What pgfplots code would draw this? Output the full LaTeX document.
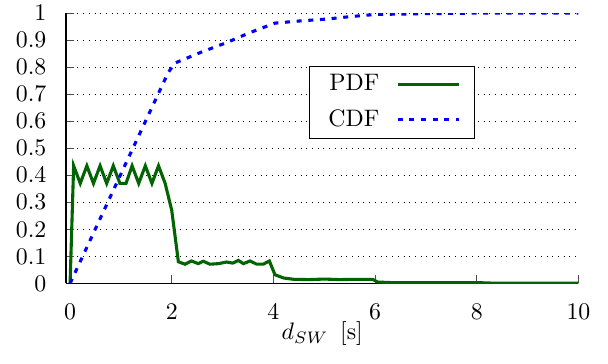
\documentclass[border=0pt]{standalone}
\usepackage{pgfplots}
\pgfplotsset{compat=1.18}
\definecolor{dkgreen}{RGB}{0,100,0}
\begin{document}
\begin{tikzpicture}
\useasboundingbox (-27.7pt,-33.6pt) rectangle (227.4pt,118.9pt);
\begin{axis}[
  scale only axis, width=215pt, height=113.4pt,
  xmin=-0.08, xmax=10, ymin=0, ymax=1,
  axis lines*=left,
  axis line style={black, line width=0.6pt},
  xtick={0,2,4,6,8,10},
  ytick={0,0.1,0.2,0.3,0.4,0.5,0.6,0.7,0.8,0.9,1},
  ymajorgrids,
  grid style={black, dotted, line width=0.5pt},
  major tick length=3.5pt,
  tick style={black!70, line width=0.5pt},
  xticklabel style={yshift=-5pt},
  yticklabel style={xshift=-4.7pt},
  xlabel={$d_{SW}$\hspace{5pt}[s]},
  xlabel style={at={(axis description cs:0.5,0)}, anchor=north, yshift=-12.5pt},
  legend plot pos=right,
  legend cell align=right,
  legend image code/.code={\draw[#1] (0pt,0pt) -- (25.6pt,0pt);},
  legend style={at={(axis cs:6.33,0.67)}, anchor=center, draw=black, line width=0.5pt,
    inner xsep=6pt, inner ysep=1.5pt, row sep=2.4pt, column sep=5pt,
    nodes={inner sep=2pt, text depth=0.15em}},
]
\addplot[dkgreen, line width=1.3pt] coordinates {
(0,0) (0.07,0.435) (0.2,0.37) (0.33,0.435) (0.46,0.37) (0.59,0.435) (0.72,0.37)
(0.85,0.435) (0.98,0.37) (1.1,0.37) (1.22,0.435) (1.35,0.37) (1.48,0.435) (1.61,0.37)
(1.74,0.435) (1.87,0.37) (2.0,0.27) (2.13,0.08) (2.26,0.071) (2.39,0.083) (2.52,0.073)
(2.62,0.082) (2.75,0.071) (2.92,0.073) (3.08,0.079) (3.2,0.075) (3.31,0.085) (3.41,0.073)
(3.54,0.083) (3.67,0.071) (3.8,0.071) (3.92,0.083) (4.03,0.032) (4.2,0.02) (4.4,0.015)
(4.7,0.014) (5.0,0.016) (5.3,0.014) (5.6,0.015) (5.95,0.015) (6.05,0.005) (6.3,0.003)
(7.0,0.003) (8.0,0.003) (8.3,0.001) (10,0.001)
};
\addlegendentry{PDF}
\addplot[blue, line width=1.3pt, dash pattern=on 2.1pt off 2.8pt] coordinates {
(0,0) (1.0,0.405) (1.93,0.78) (2.06,0.815) (2.56,0.854) (3.08,0.891) (3.54,0.928)
(4.03,0.963) (4.52,0.971) (5.05,0.978) (5.51,0.987) (6.0,0.995) (7,0.998) (8,1.0) (10,1.0)
};
\addlegendentry{CDF}
\end{axis}
\end{tikzpicture}
\end{document}
